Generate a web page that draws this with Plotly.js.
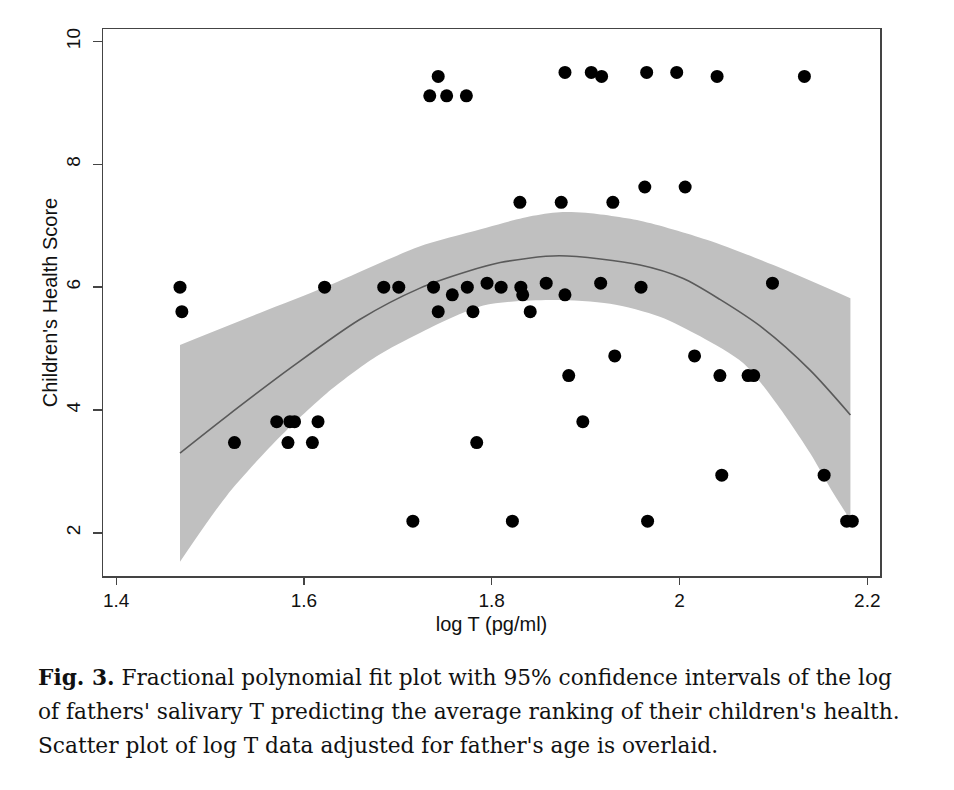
<!DOCTYPE html>
<html>
<head>
<meta charset="utf-8">
<script src="https://cdn.plot.ly/plotly-3.0.1.min.js"></script>
<style>
  body { margin: 0; background: #fff; }
  #myDiv { width: 954px; height: 790px; }
</style>
</head>
<body>
<div id="myDiv"></div>
<script>
// scatter: log T (adjusted) vs children's health score
var logT = [
  1.743, 1.734, 1.752, 1.773,
  1.878, 1.906, 1.917, 1.965, 1.997, 2.040, 2.133,
  1.963, 2.006,
  1.830, 1.874, 1.929,
  1.468, 1.470, 1.622, 1.685, 1.701, 1.738, 1.758, 1.774, 1.795,
  1.743, 1.780,
  1.810, 1.831, 1.833, 1.841, 1.858, 1.878, 1.916, 1.959, 2.099,
  1.931, 2.016,
  1.882, 2.043, 2.073, 2.079,
  1.571, 1.585, 1.590, 1.615, 1.897,
  1.526, 1.583, 1.609, 1.784,
  2.045, 2.154,
  1.716, 1.822, 1.966, 2.178, 2.184
];
var health = [
  9.43, 9.115, 9.115, 9.115,
  9.495, 9.495, 9.43, 9.495, 9.495, 9.43, 9.43,
  7.63, 7.63,
  7.38, 7.38, 7.38,
  6.0, 5.6, 6.0, 6.0, 6.0, 6.0, 5.875, 6.0, 6.065,
  5.6, 5.6,
  6.0, 6.0, 5.875, 5.6, 6.065, 5.875, 6.065, 6.0, 6.065,
  4.88, 4.88,
  4.56, 4.56, 4.56, 4.56,
  3.81, 3.81, 3.81, 3.81, 3.81,
  3.47, 3.47, 3.47, 3.47,
  2.94, 2.94,
  2.19, 2.19, 2.19, 2.19, 2.19
];

// fractional polynomial fit
var fitX = [1.468, 1.517, 1.588, 1.659, 1.723, 1.773, 1.809, 1.872, 1.958, 2.004, 2.043, 2.089, 2.139, 2.182];
var fitY = [3.30, 3.89, 4.71, 5.47, 5.98, 6.25, 6.40, 6.51, 6.36, 6.14, 5.80, 5.33, 4.65, 3.92];

// 95% CI band, upper and lower limits
var ciUpX = [1.468, 1.553, 1.624, 1.723, 1.773, 1.840, 1.872, 1.900, 1.958, 2.029, 2.100, 2.182];
var ciUpY = [5.06, 5.58, 6.01, 6.66, 6.88, 7.15, 7.22, 7.21, 7.08, 6.77, 6.36, 5.82];
var ciLoX = [1.468, 1.517, 1.571, 1.624, 1.677, 1.723, 1.791, 1.862, 1.926, 1.979, 2.022, 2.068, 2.103, 2.139, 2.164, 2.182];
var ciLoY = [1.53, 2.59, 3.51, 4.27, 4.87, 5.25, 5.70, 5.79, 5.73, 5.52, 5.20, 4.76, 4.11, 3.30, 2.64, 2.21];

var xTicks = [1.4, 1.6, 1.8, 2.0, 2.2];
var xTickText = ['1.4', '1.6', '1.8', '2', '2.2'];
var yTicks = [2, 4, 6, 8, 10];

var captionLines = [
  '<b>Fig. 3.</b> Fractional polynomial fit plot with 95% confidence intervals of the log',
  "of fathers' salivary T predicting the average ranking of their children's health.",
  "Scatter plot of log T data adjusted for father's age is overlaid."
];

var bandColor = '#c0c0c0';

var ciLo = {
  x: ciLoX,
  y: ciLoY,
  type: 'scatter',
  mode: 'lines',
  line: {width: 0, color: bandColor, shape: 'spline', smoothing: 0.8},
  hoverinfo: 'skip'
};

var ciUp = {
  x: ciUpX,
  y: ciUpY,
  type: 'scatter',
  mode: 'lines',
  fill: 'tonexty',
  fillcolor: bandColor,
  line: {width: 0, color: bandColor, shape: 'spline', smoothing: 0.8},
  hoverinfo: 'skip'
};

var fit = {
  x: fitX,
  y: fitY,
  type: 'scatter',
  mode: 'lines',
  line: {color: '#5a5a5a', width: 1.6, shape: 'spline', smoothing: 0.8}
};

var pts = {
  x: logT,
  y: health,
  type: 'scatter',
  mode: 'markers',
  marker: {color: '#000', size: 13}
};

var tickFont = {family: 'Liberation Sans, Arial, sans-serif', size: 19, color: '#111'};
var titleFont = {family: 'Liberation Sans, Arial, sans-serif', size: 20, color: '#111'};

var annotations = captionLines.map(function (t, i) {
  return {
    text: t,
    xref: 'paper', yref: 'paper',
    x: (36 - 103) / 777, xanchor: 'left',
    y: (576 - (677 + i * 34)) / 547, yanchor: 'middle',
    showarrow: false,
    font: {family: 'DejaVu Serif, serif', size: 21.7, color: '#111'}
  };
});

var layout = {
  width: 954,
  height: 790,
  margin: {l: 103, r: 74, t: 29, b: 214},
  showlegend: false,
  paper_bgcolor: '#fff',
  plot_bgcolor: '#fff',
  xaxis: {
    range: [1.386, 2.2135],
    tickvals: xTicks,
    ticktext: xTickText,
    ticks: 'outside',
    ticklen: 7,
    tickcolor: '#444',
    tickwidth: 1.3,
    showgrid: false,
    zeroline: false,
    showline: true,
    linecolor: '#444',
    linewidth: 1.5,
    mirror: true,
    tickfont: tickFont,
    title: {text: 'log T (pg/ml)', font: titleFont, standoff: 6}
  },
  yaxis: {
    range: [1.298, 10.202],
    tickvals: yTicks,
    tickangle: -90,
    ticks: 'outside',
    ticklen: 9,
    tickcolor: '#444',
    tickwidth: 1.3,
    ticklabelstandoff: 5,
    showgrid: false,
    zeroline: false,
    showline: true,
    linecolor: '#444',
    linewidth: 1.5,
    mirror: true,
    tickfont: tickFont,
    title: {text: "Children's Health Score", font: titleFont, standoff: 0}
  },
  annotations: annotations
};

Plotly.newPlot('myDiv', [ciLo, ciUp, fit, pts], layout, {displayModeBar: false, staticPlot: true});
</script>
</body>
</html>
